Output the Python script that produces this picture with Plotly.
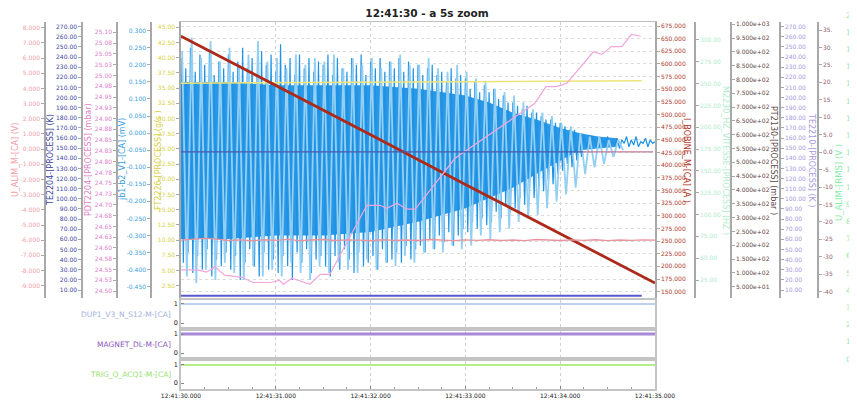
import plotly.graph_objects as go

W, H = 857, 400
OFF = 8  # the page body margin shifts the figure by this many pixels


def fx(p):
    return (p - OFF) / W


def fy(p):
    return 1 - (p - OFF) / H


def ts(s):
    return "2024-01-01 12:41:%06.3f" % s


# ------------------------------------------------------------------ data
X_RANGE = [30.0, 35.0]

# jb1-b2_V1 (mV): dense oscillation, sampled every 25 ms
JB1_DENSE = [
    0.22, -0.38, 0.19, -0.35, 0.25, -0.41, 0.18, -0.36, 0.23, -0.40,
    0.20, -0.34, 0.24, -0.42, 0.17, -0.37, 0.21, -0.39, 0.19, -0.35,
    0.23, -0.40, 0.18, -0.36, 0.21, -0.43, 0.25, -0.38, 0.19, -0.34,
    0.22, -0.39, 0.17, -0.42, 0.24, -0.35, 0.20, -0.40, 0.23, -0.37,
    0.18, -0.41, 0.26, -0.36, 0.20, -0.39, 0.22, -0.43, 0.17, -0.35,
    0.23, -0.38, 0.19, -0.34, 0.22, -0.41, 0.18, -0.37, 0.21, -0.36,
    0.20, -0.39, 0.23, -0.42, 0.17, -0.36, 0.22, -0.40, 0.19, -0.34,
    0.18, -0.37, 0.22, -0.41, 0.20, -0.35, 0.23, -0.39, 0.17, -0.38,
    0.21, -0.36, 0.19, -0.40, 0.22, -0.34, 0.18, -0.38, 0.21, -0.37,
    0.19, -0.35, 0.22, -0.38, 0.18, -0.33, 0.21, -0.37, 0.19, -0.34,
    0.20, -0.33, 0.17, -0.35, 0.19, -0.31, 0.20, -0.34, 0.17, -0.30,
    0.18, -0.32, 0.15, -0.29, 0.19, -0.33, 0.16, -0.30, 0.17, -0.28,
    0.16, -0.29, 0.13, -0.26, 0.15, -0.28, 0.12, -0.25, 0.14, -0.27,
    0.12, -0.26, 0.13, -0.23, 0.10, -0.25, 0.11, -0.21, 0.09, -0.23,
    0.09, -0.22, 0.08, -0.19, 0.07, -0.21, 0.08, -0.17, 0.06, -0.19,
    0.06, -0.16, 0.05, -0.17, 0.04, -0.14, 0.04, -0.15, 0.03, -0.12,
    0.03, -0.11, 0.02, -0.09, 0.01, -0.10, 0.01, -0.08, 0.00, -0.07,
    -0.010, -0.040, -0.020, -0.045, -0.010, -0.035, -0.015, -0.040, -0.020, -0.030,
    -0.010, -0.040, -0.025, -0.035, -0.015, -0.045, -0.020, -0.030, -0.010, -0.040,
    -0.020, -0.035, -0.010, -0.040, -0.025, -0.030, -0.015, -0.040, -0.020, -0.030,
    -0.025,
]
JB1_DENSE_T = [30.0 + 0.025 * i for i in range(len(JB1_DENSE))]

# jb1-b2_V1 (mV): the lighter full-height spikes, sampled every 50 ms
JB1_SPIKES = [
    0.24, -0.42, 0.28, -0.44, 0.22, -0.40, 0.27, -0.43, 0.21, -0.38,
    0.25, -0.41, 0.20, -0.43, 0.23, -0.39, 0.27, -0.42, 0.21, -0.40,
    0.22, -0.42, 0.19, -0.38, 0.23, -0.41, 0.20, -0.43, 0.22, -0.39,
    0.21, -0.41, 0.23, -0.38, 0.19, -0.40, 0.22, -0.41, 0.20, -0.37,
    0.22, -0.40, 0.19, -0.38, 0.21, -0.39, 0.23, -0.36, 0.20, -0.38,
    0.20, -0.35, 0.22, -0.34, 0.19, -0.35, 0.18, -0.33, 0.20, -0.34,
    0.18, -0.33, 0.16, -0.30, 0.15, -0.31, 0.13, -0.29, 0.12, -0.28,
    0.11, -0.26, 0.09, -0.25, 0.07, -0.24, 0.06, -0.22, 0.05, -0.20,
    0.03, -0.18, 0.02, -0.16, 0.00, -0.12, -0.01, -0.10, -0.01, -0.09,
    -0.02, -0.07, -0.02, -0.05,
]
JB1_SPIKES_T = [30.0125 + 0.05 * i for i in range(len(JB1_SPIKES))]

# jb1-b2_V1 (mV): envelope of the solid part of the oscillation
JB1_BAND_T = [30.0, 30.5, 31.0, 31.5, 32.0, 32.5, 33.0, 33.25, 33.5, 33.75, 34.0, 34.2, 34.4, 34.6]
JB1_BAND_HI = [0.15, 0.15, 0.14, 0.14, 0.14, 0.13, 0.11, 0.09, 0.06, 0.04, 0.015, 0.00, -0.01, -0.015]
JB1_BAND_LO = [-0.31, -0.31, -0.30, -0.30, -0.29, -0.26, -0.22, -0.19, -0.16, -0.12, -0.08, -0.05, -0.045, -0.04]

# I_BOBINE_M (A)
IBOB_T = [30.0, 31.0, 32.0, 33.0, 34.0, 35.0]
IBOB_V = [655, 558, 460, 362, 265, 167]

# FT2226 (g/s)
FT_T = [30.0, 32.5, 33.5, 34.86]
FT_V = [35.8, 35.95, 36.1, 36.2]

# PDT2204 (mbar)
PDT_T = [30.00, 30.17, 30.27, 30.36, 30.46, 30.64, 30.76, 30.94, 31.04, 31.08,
         31.17, 31.36, 31.47, 31.57, 31.96, 32.10, 32.17, 32.28, 32.38, 32.47,
         32.61, 32.89, 33.73, 33.85, 33.96, 34.07, 34.35, 34.44, 34.54, 34.65,
         34.75, 34.85]
PDT_V = [24.549, 24.549, 24.544, 24.556, 24.537, 24.532, 24.520, 24.520, 24.525, 24.516,
         24.530, 24.516, 24.539, 24.539, 24.699, 24.699, 24.692, 24.704, 24.690, 24.690,
         24.729, 24.808, 24.935, 24.974, 24.974, 24.982, 25.055, 25.049, 25.067, 25.067,
         25.095, 25.091]

# U_ALIM_M (V), every 125 ms
UALIM_V = [
    -6.00, -5.96, -5.88, -5.93, -6.02, -5.98, -6.04, -5.97, -6.01, -5.95,
    -6.03, -5.99, -5.96, -6.02, -5.98, -6.00, -6.04, -5.97, -6.01, -5.99,
    -6.02, -5.96, -6.00, -6.03, -5.98, -6.01, -5.97, -6.02, -5.99, -6.03,
    -5.96, -6.00, -6.02, -5.98, -6.01, -5.97, -6.03, -5.99, -6.01, -5.98,
    -6.00,
]
UALIM_T = [30.0 + 0.125 * i for i in range(len(UALIM_V))]

# TE2204 (K), TE2210 (K), unnamed mauve channel
TE2204_T = [30.0, 34.24]
TE2204_V = [146.3, 146.3]
TE2210_T = [30.0, 34.86]
TE2210_V = [4.2, 4.2]
AX5_T = [34.24, 34.98]
AX5_V = [0.1, 0.1]

# digital channels
DIG_T = [30.0, 35.0]
DUP1_V = [1, 1]
MAGNET_V = [1, 1]
TRIG_V = [1, 1]

# tick values / labels
JB1_TICKS = [-0.45, -0.40, -0.35, -0.30, -0.25, -0.20, -0.15, -0.10, -0.05, 0.0,
             0.05, 0.10, 0.15, 0.20, 0.25, 0.30]
FT_TICKS = [2.5, 5, 7.5, 10, 12.5, 15, 17.5, 20, 22.5, 25, 27.5, 30, 32.5, 35,
            37.5, 40, 42.5, 45]
IBOB_TICKS = list(range(150, 676, 25))
PDT_TICKS = [24.50 + 0.025 * k for k in range(25)]
PDT_LABELS = ["24.50", "24.53", "24.55", "24.58", "24.60", "24.63", "24.65", "24.68",
              "24.70", "24.73", "24.75", "24.78", "24.80", "24.83", "24.85", "24.88",
              "24.90", "24.93", "24.95", "24.98", "25.00", "25.03", "25.05", "25.08",
              "25.10"]
TE_TICKS = list(range(10, 271, 10))
UALIM_TICKS = list(range(-9, 9))
M2230_TICKS = list(range(25, 301, 25))
PT_TICKS = list(range(50, 1001, 50))
PT_LABELS = ["5.000e+01", "1.000e+02", "1.500e+02", "2.000e+02", "2.500e+02",
             "3.000e+02", "3.500e+02", "4.000e+02", "4.500e+02", "5.000e+02",
             "5.500e+02", "6.000e+02", "6.500e+02", "7.000e+02", "7.500e+02",
             "8.000e+02", "8.500e+02", "9.000e+02", "9.500e+02", "1.000e+03"]
AX5_TICKS = list(range(-40, 36, 5))
AX5_LABELS = ["-40", "-35", "-30", "-25", "-20", "-15", "-10", "-5.", "0.0", "5.0",
              "10.", "15.", "20.", "25.", "30.", "35."]
RMS_TICKS = list(range(0, 21))


def fmt(vals, d):
    out = []
    for v in vals:
        if abs(v) < 1e-9:
            v = 0.0
        out.append(("%." + str(d) + "f") % v)
    return out


# ------------------------------------------------------------------ styles
FONT = "DejaVu Sans"
AXL = "#a8a8a8"
C_UALIM = "#f0a0a8"
C_TE2204 = "#3c44a0"
C_PDT = "#e080c8"
C_JB1 = "#3aa0e0"
C_FT = "#d8d040"
C_IBOB = "#b03828"
C_M2230 = "#b0eccc"
C_PT = "#604848"
C_TE2210 = "#a898e0"
C_AX5 = "#906070"
C_RMS = "#86eca8"

XD = [fx(181), fx(655)]
MAIN_D = [fy(298), fy(22)]
DUP_D = [fy(327), fy(300)]
MAG_D = [fy(357), fy(331)]
TRIG_D = [fy(389), fy(361)]
RMS_D = [fy(367.6), 1.0]

xr = [ts(X_RANGE[0]), ts(X_RANGE[1])]


def T(lst):
    return [ts(s) for s in lst]


def yax(color, tickvals, ticktext, rng, **kw):
    d = dict(
        range=rng, tickmode="array", tickvals=tickvals, ticktext=ticktext,
        showgrid=False, zeroline=False, showline=True, linecolor=AXL, linewidth=1.5,
        ticks="outside", ticklen=3, tickcolor=AXL, tickwidth=1, automargin=False,
        tickfont=dict(family=FONT, size=6, color=color), domain=MAIN_D,
    )
    d.update(kw)
    return d


fig = go.Figure()


def line(x, y, xa, ya, color, width, **kw):
    fig.add_trace(go.Scatter(x=T(x), y=y, xaxis=xa, yaxis=ya, mode="lines",
                             line=dict(color=color, width=width), hoverinfo="skip",
                             showlegend=False, **kw))


# base layer: jb1 signal
line(JB1_BAND_T, JB1_BAND_HI, "x", "y", "rgba(0,0,0,0)", 0)
line(JB1_BAND_T, JB1_BAND_LO, "x", "y", "rgba(0,0,0,0)", 0,
     fill="tonexty", fillcolor="#2a98e6")
line(JB1_DENSE_T, JB1_DENSE, "x", "y", "#1e92e4", 1.2)
line(JB1_SPIKES_T, JB1_SPIKES, "x", "y", "#92cff3", 1.8)
# overlays
line(FT_T, FT_V, "x", "y2", "#ece47a", 1.5)
line(IBOB_T, IBOB_V, "x", "y3", "#ad2a1a", 2.8)
line(PDT_T, PDT_V, "x", "y4", "#f2a6dc", 1.2)
line(TE2204_T, TE2204_V, "x", "y5", "#4a58a8", 1.2)
line(UALIM_T, UALIM_V, "x", "y6", "#e8949e", 1.4)
line([30.0], [None], "x", "y7", C_M2230, 1)
line([30.0], [None], "x", "y8", C_PT, 1)
line(TE2210_T, TE2210_V, "x", "y9", "#5858c8", 2)
line(AX5_T, AX5_V, "x", "y10", "#c0789a", 1.2)
line([30.0], [None], "x5", "y11", C_RMS, 1)
# digital channels
line(DIG_T, DUP1_V, "x2", "y12", "#a8c0e8", 1.5)
line(DIG_T, MAGNET_V, "x3", "y13", "#a888d8", 3)
line(DIG_T, TRIG_V, "x4", "y14", "#b4ec88", 2)

xgrid = dict(showgrid=True, gridcolor="#d0d0d0", griddash="dot", gridwidth=1,
             automargin=False)

layout = dict(
    template="none",
    width=W, height=H, margin=dict(l=0, r=0, t=0, b=0, autoexpand=False),
    paper_bgcolor="white", plot_bgcolor="white", showlegend=False,
    font=dict(family=FONT, size=6, color="#333"),
    title=dict(text="<b>12:41:30 - a 5s zoom</b>", x=fx(427), y=fy(13),
               xanchor="center", yanchor="middle", automargin=False,
               font=dict(family=FONT, size=10.5, color="#222")),
    xaxis=dict(domain=XD, range=xr, type="date", anchor="y", dtick=1000, tick0=ts(30),
               showticklabels=False, ticks="", zeroline=False,
               showline=True, mirror=True, linecolor="#c0c0c0", linewidth=1, **xgrid),
    xaxis2=dict(domain=XD, range=xr, type="date", anchor="y12", matches="x", dtick=1000,
                tick0=ts(30), showticklabels=False, ticks="", showline=True, mirror=True,
                linecolor="#c4c4c4", linewidth=1.5, **xgrid),
    xaxis3=dict(domain=XD, range=xr, type="date", anchor="y13", matches="x", dtick=1000,
                tick0=ts(30), showticklabels=False, ticks="", showline=True, mirror=True,
                linecolor="#c4c4c4", linewidth=1.5, **xgrid),
    xaxis4=dict(domain=XD, range=xr, type="date", anchor="y14", matches="x", dtick=1000,
                tick0=ts(30), tickformat="%H:%M:%S.%L", showline=True, mirror=True,
                linecolor="#c4c4c4", linewidth=1.5, ticks="inside", ticklen=3,
                tickcolor="#888", tickfont=dict(family=FONT, size=6, color="#222"),
                minor=dict(dtick=250, ticks="inside", ticklen=2, tickcolor="#999",
                           showgrid=False), **xgrid),
    xaxis5=dict(domain=[0.0, 0.01], range=[0, 1], visible=False, anchor="y11",
                automargin=False),
    yaxis=yax(C_JB1, JB1_TICKS, fmt(JB1_TICKS, 3), [-0.483, 0.3255],
              anchor="free", position=fx(151), side="left"),
    yaxis2=yax(C_FT, FT_TICKS, fmt(FT_TICKS, 2), [0.476, 45.87],
               anchor="x", overlaying="y", side="left"),
    yaxis3=yax(C_IBOB, IBOB_TICKS, fmt(IBOB_TICKS, 3), [137.5, 682.9],
               anchor="x", overlaying="y", side="right",
               showgrid=True, gridcolor="#dcdcdc", griddash="dot", gridwidth=1),
    yaxis4=yax(C_PDT, PDT_TICKS, PDT_LABELS, [24.484, 25.124],
               anchor="free", position=fx(117), overlaying="y", side="left"),
    yaxis5=yax(C_TE2204, TE_TICKS, fmt(TE_TICKS, 2), [2.1, 274.6],
               anchor="free", position=fx(82), overlaying="y", side="left"),
    yaxis6=yax(C_UALIM, UALIM_TICKS, fmt(UALIM_TICKS, 3), [-9.81, 8.375],
               anchor="free", position=fx(45), overlaying="y", side="left"),
    yaxis7=yax(C_M2230, M2230_TICKS, fmt(M2230_TICKS, 2), [4.4, 320.6],
               anchor="free", position=fx(695), overlaying="y", side="right"),
    yaxis8=yax(C_PT, PT_TICKS, PT_LABELS, [9, 1008],
               anchor="free", position=fx(731), overlaying="y", side="right"),
    yaxis9=yax(C_TE2210, TE_TICKS, fmt(TE_TICKS, 2), [2.1, 274.6],
               anchor="free", position=fx(780), overlaying="y", side="right"),
    yaxis10=yax(C_AX5, AX5_TICKS, AX5_LABELS, [-41.8, 37.3],
                anchor="free", position=fx(818), overlaying="y", side="right"),
    yaxis11=yax(C_RMS, RMS_TICKS, [str(v) for v in RMS_TICKS], [-0.5, 20.41],
                anchor="free", position=fx(845), side="right", domain=RMS_D,
                showline=False, ticks="", ticklabeloverflow="allow",
                tickfont=dict(family=FONT, size=7.5, color=C_RMS)),
)

sub_y = dict(range=[-0.21, 1.21], tickvals=[0, 1], ticktext=["0", "1"], showgrid=False,
             zeroline=False, showline=True, mirror=True, linecolor="#c4c4c4", linewidth=1.5,
             ticks="inside", ticklen=3, tickcolor="#888", automargin=False,
             tickfont=dict(family=FONT, size=6.5, color="#222"))
layout["yaxis12"] = dict(sub_y, domain=DUP_D, anchor="x2")
layout["yaxis13"] = dict(sub_y, domain=MAG_D, anchor="x3", range=[-0.21, 1.16])
layout["yaxis14"] = dict(sub_y, domain=TRIG_D, anchor="x4", range=[-0.33, 1.22])

ann = []
LEFT_TITLES = [("U_ALIM_M-[CA] (V)", 15, C_UALIM),
               ("TE2204-[PROCESS] (K)", 50, C_TE2204),
               ("PDT2204-[PROCESS] (mbar)", 88, C_PDT),
               ("jb1-b2_V1-[CA] (mV)", 122, C_JB1),
               ("FT2226-[PROCESS] (g/s )", 158, C_FT)]
RIGHT_TITLES = [("I_BOBINE_M-[CA] (A )", 687, C_IBOB),
                ("M2230_HZ_VITESSE-[PROCESS] (HZ )", 726, C_M2230),
                ("PT2130-[PROCESS] (mbar )", 774, C_PT),
                ("TE2210-[PROCESS] (K )", 812, C_TE2210)]
for txt, px, col in LEFT_TITLES:
    ann.append(dict(text=txt, x=fx(px), y=fy(160), xref="paper", yref="paper",
                    textangle=-90, showarrow=False, xanchor="center", yanchor="middle",
                    font=dict(family=FONT, size=8, color=col)))
for txt, px, col in RIGHT_TITLES:
    ann.append(dict(text=txt, x=fx(px), y=fy(160), xref="paper", yref="paper",
                    textangle=90, showarrow=False, xanchor="center", yanchor="middle",
                    font=dict(family=FONT, size=8, color=col)))
ann.append(dict(text="U_ALIM-[RMS] (V )", x=fx(839), y=fy(183), xref="paper", yref="paper",
                textangle=-90, showarrow=False, xanchor="center", yanchor="middle",
                font=dict(family=FONT, size=8.5, color=C_RMS)))

SUB_LABELS = [("DUP1_V3_N_S12-M-[CA]", 314, "#9fb2dc"),
              ("MAGNET_DL-M-[CA]", 344, "#8a58b8"),
              ("TRIG_Q_ACQ1-M-[CA]", 374, "#98e070")]
for txt, py, col in SUB_LABELS:
    ann.append(dict(text=txt, x=fx(173), y=fy(py), xref="paper", yref="paper",
                    showarrow=False, xanchor="right", yanchor="middle",
                    font=dict(family=FONT, size=7.5, color=col)))

layout["annotations"] = ann
fig.update_layout(**layout)
fig.write_html("out.html")
